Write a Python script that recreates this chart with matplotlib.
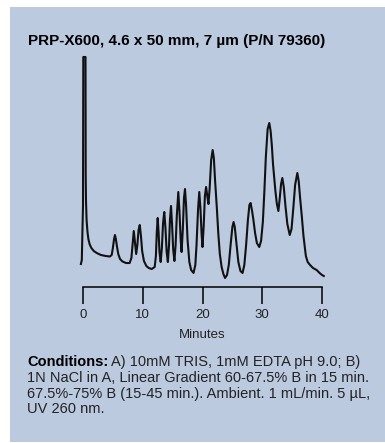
import matplotlib
matplotlib.use("Agg")
import matplotlib.pyplot as plt
from matplotlib.patches import Rectangle

# chromatogram trace (minutes, detector response)
minutes = [-0.35, -0.2, -0.1, 0.0, 0.05, 0.42, 0.45, 0.5, 0.6, 0.75, 0.9, 1.1, 1.4, 1.8, 2.3,
           3.0, 3.8, 4.5, 4.8, 5.0, 5.2, 5.35, 5.5, 5.7, 5.9, 6.2, 6.6, 7.2, 7.8, 8.1,
           8.3, 8.5, 8.7, 8.9, 9.1, 9.3, 9.5, 9.7, 9.9, 10.2, 10.6, 11.0, 11.5, 12.0, 12.2,
           12.35, 12.5, 12.65, 12.8, 13.0, 13.2, 13.4, 13.6, 13.8, 14.0, 14.2, 14.4, 14.55, 14.73, 14.9,
           15.1, 15.3, 15.5, 15.7, 15.95, 16.15, 16.35, 16.5, 16.7, 16.9, 17.07, 17.25, 17.5, 17.8, 18.1,
           18.5, 18.8, 19.0, 19.25, 19.46, 19.65, 19.85, 20.0, 20.2, 20.4, 20.6, 20.8, 21.0, 21.2, 21.45,
           21.7, 21.9, 22.1, 22.4, 22.65, 22.9, 23.2, 23.5, 23.77, 24.1, 24.4, 24.7, 25.0, 25.2, 25.4,
           25.7, 26.0, 26.35, 26.7, 27.0, 27.3, 27.6, 27.85, 28.05, 28.3, 28.5, 28.8, 29.1, 29.5, 29.8,
           30.1, 30.35, 30.6, 30.9, 31.18, 31.4, 31.6, 31.8, 31.97, 32.2, 32.45, 32.7, 32.9, 33.15, 33.36,
           33.6, 33.9, 34.2, 34.6, 34.9, 35.2, 35.5, 35.87, 36.1, 36.35, 36.6, 36.9, 37.3, 37.6, 38.0,
           38.5, 39.1, 39.6, 40.0, 40.3]
response = [36, 40, 70, 95, 243, 243, 125, 100, 80, 68, 61, 56, 52, 49, 47,
            45, 44, 43.5, 45, 52, 61, 65, 61, 53, 46, 41, 38.5, 37, 37, 42,
            56, 69, 57, 46, 55, 70, 75, 64, 49, 39, 34, 32, 31, 33, 44,
            68, 82, 68, 48, 38, 52, 77, 88, 72, 48, 38, 55, 80, 94, 76,
            50, 39, 55, 84, 108, 88, 60, 48, 70, 102, 111, 95, 60, 38, 30,
            27, 35, 55, 90, 108, 92, 66, 53, 74, 104, 113, 104, 96, 112, 140,
            150, 142, 120, 92, 66, 46, 33, 26, 22, 25, 35, 55, 73, 78, 73,
            55, 38, 29, 27, 35, 55, 80, 95, 97, 89, 81, 67, 57, 53, 59,
            78, 108, 143, 171, 177, 169, 155, 136, 124, 109, 96, 89, 100, 116, 122,
            113, 93, 76, 65, 71, 92, 115, 127, 119, 101, 85, 64, 44, 38, 35,
            32, 30, 27, 25, 24]

x_ticks = [0, 10, 20, 30, 40]
title = "PRP-X600, 4.6 x 50 mm, 7 µm (P/N 79360)"
cond_head = "Conditions:"
cond_lines = ["A) 10mM TRIS, 1mM EDTA pH 9.0; B)",
              "1N NaCl in A, Linear Gradient 60-67.5% B in 15 min.",
              "67.5%-75% B (15-45 min.). Ambient. 1 mL/min. 5 µL,",
              "UV 260 nm."]

W, H = 385, 443
font = ["Liberation Sans", "DejaVu Sans"]
bg = "#bccae0"

fig = plt.figure(figsize=(W / 100, H / 100), dpi=100)
fig.patch.set_facecolor("white")
fig.patches.append(Rectangle((10 / W, 1 / H), 375 / W, 435 / H,
                             transform=fig.transFigure, facecolor=bg,
                             edgecolor="none", zorder=-5))

# plot area: 0 min at x=83px, 40 min at x=322px
ppm = (322 - 83) / 40.0
ax = fig.add_axes([(83 - 2 * ppm) / W, (H - 287) / H, 44 * ppm / W, 237 / H])
ax.set_zorder(2)
ax.set_facecolor("none")
ax.plot(minutes, response, color="#111111", lw=1.5, solid_joinstyle="round")
ax.set_xlim(-2, 42)
ax.set_ylim(13, 250)
for s in ["left", "right", "top"]:
    ax.spines[s].set_visible(False)
ax.spines["bottom"].set_bounds(0, 40)
ax.spines["bottom"].set_linewidth(1.1)
ax.set_yticks([])
ax.set_xticks(x_ticks)
ax.tick_params(axis="x", direction="out", length=12.5, width=1.1, pad=3,
               labelsize=9.5, colors="black")
for lab in ax.get_xticklabels():
    lab.set_family(font)
    lab.set_color("#222222")

fig.text(202.5 / W, (H - 338) / H, "Minutes", ha="center", va="baseline",
         family=font, fontsize=9.5, color="#222222")

fig.text(28 / W, (H - 44.5) / H, title, ha="left", va="baseline",
         family=font, fontsize=11, fontweight="bold", color="black")

# conditions block, one line at a time
x0 = 27 / W
base = 366
step = 15.8
head = fig.text(x0, (H - base) / H, cond_head, ha="left", va="baseline",
                family=font, fontsize=10.5, fontweight="bold", color="black")
fig.canvas.draw()
bb = head.get_window_extent(fig.canvas.get_renderer())
fig.text((bb.x1 + 3) / W, (H - base) / H, cond_lines[0], ha="left",
         va="baseline", family=font, fontsize=10.5, color="#222222")
for i, line in enumerate(cond_lines[1:], start=1):
    fig.text(x0, (H - base - i * step) / H, line, ha="left", va="baseline",
             family=font, fontsize=10.5, color="#222222")

fig.savefig("out.png", dpi=100, facecolor=fig.get_facecolor())
